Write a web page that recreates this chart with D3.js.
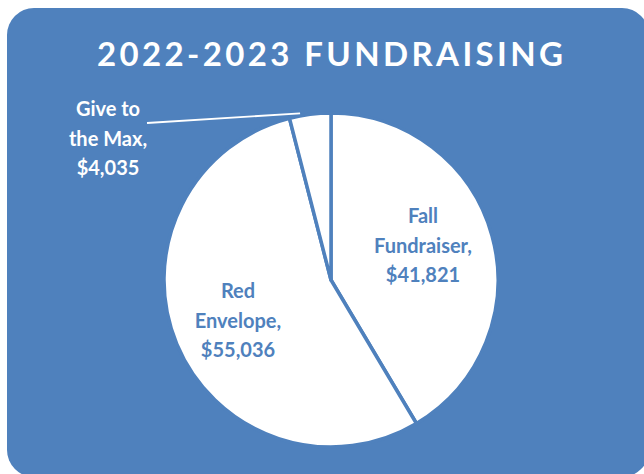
<!DOCTYPE html>
<html><head><meta charset="utf-8">
<script src="https://cdn.jsdelivr.net/npm/d3@7"></script>
<style>html,body{margin:0;padding:0;background:#fff;overflow:hidden}</style>
</head><body>
<svg id="c" width="644" height="474"></svg>
<script>
const categories = ["Fall Fundraiser", "Red Envelope", "Give to the Max"];
const values = [41821, 55036, 4035];
const labelLines = [["Fall", "Fundraiser,", "$41,821"], ["Red", "Envelope,", "$55,036"], ["Give to", "the Max,", "$4,035"]];
const title = "2022-2023 FUNDRAISING";

const blue = "#4F81BD";
const svg = d3.select("#c");
svg.append("rect").attr("x", 7).attr("y", 8).attr("width", 642).attr("height", 469).attr("rx", 27).attr("fill", blue);

svg.append("text").attr("x", 330).attr("y", 66).attr("text-anchor", "middle")
  .attr("font-family", "Lato, 'Open Sans', sans-serif").attr("font-weight", "bold").attr("font-size", 33)
  .attr("fill", "#fff").attr("textLength", 466).attr("lengthAdjust", "spacing").text(title);

const cx = 331, cy = 280, r = 167;
const pie = d3.pie().sort(null).value(d => d)(values);
const arc = d3.arc().innerRadius(0).outerRadius(r);
const g = svg.append("g").attr("transform", `translate(${cx},${cy})`);
g.selectAll("path").data(pie).join("path").attr("d", arc)
  .attr("fill", "#fff").attr("stroke", blue).attr("stroke-width", 3.5).attr("stroke-linejoin", "round");

// label positions (relative to center)
const labelPos = [[92, -57], [-93, 18], [-223, -164]];
const labelColors = [blue, blue, "#fff"];
pie.forEach((d, i) => {
  const t = g.append("text").attr("text-anchor", "middle")
    .attr("font-family", "Lato, 'Open Sans', sans-serif").attr("font-weight", "bold").attr("font-size", 20)
    .attr("fill", labelColors[i]);
  labelLines[i].forEach((ln, j) => {
    t.append("tspan").attr("x", labelPos[i][0]).attr("y", labelPos[i][1] + j * 29.5).text(ln);
  });
});
// leader line for the small slice
const small = pie[2];
const mid = (small.startAngle + small.endAngle) / 2;
const ex = Math.sin(mid) * r, ey = -Math.cos(mid) * r;
g.append("line").attr("x1", -184).attr("y1", -157).attr("x2", ex - 10).attr("y2", ey - 1)
  .attr("stroke", "#fff").attr("stroke-width", 1.8);
</script>
</body></html>
